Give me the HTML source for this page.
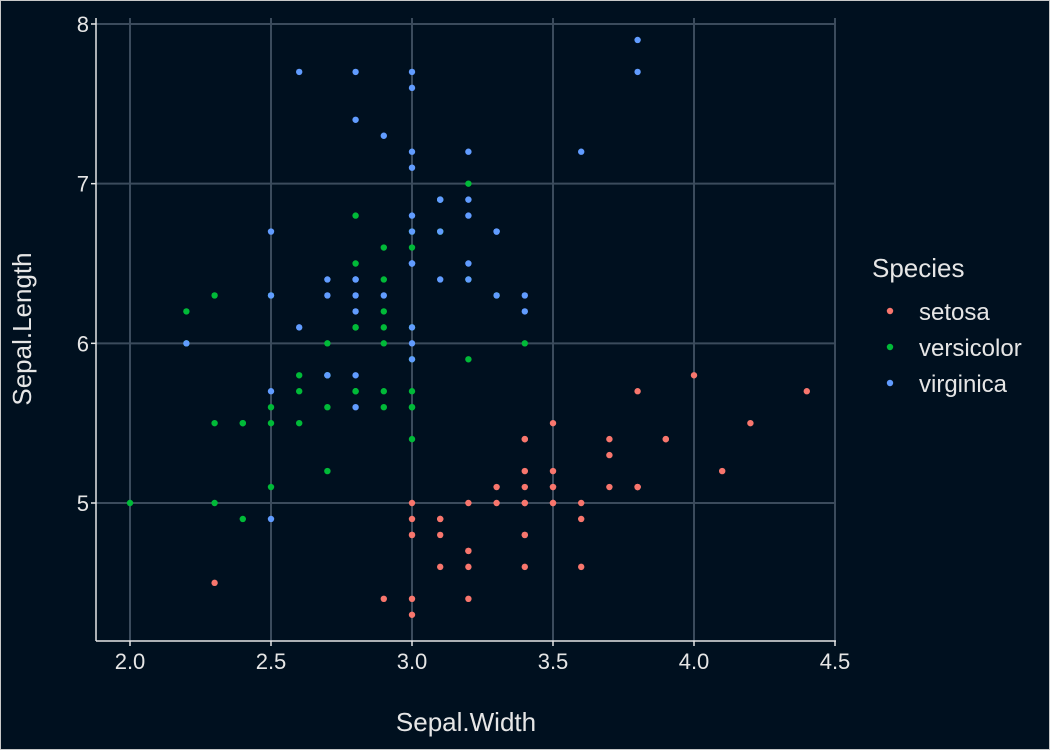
<!DOCTYPE html>
<html><head><meta charset="utf-8"><style>
html,body{margin:0;padding:0;background:#00101f;}
svg{display:block;font-family:"Liberation Sans",sans-serif;}
</style></head><body>
<svg id="chart" width="1050" height="750">
<rect x="0.5" y="0.5" width="1049" height="749" fill="#00101f" stroke="#c8c8c8" stroke-width="1"/>
<g id="grid"></g>
<g id="points"></g>
<g id="axes"></g>
<text x="466" y="731" fill="#e6e6e6" font-size="26" text-anchor="middle">Sepal.Width</text>
<text transform="translate(31,329) rotate(-90)" fill="#e6e6e6" font-size="26" text-anchor="middle">Sepal.Length</text>
<g>
<text x="872" y="277" fill="#e6e6e6" font-size="26">Species</text>
<g><circle cx="890" cy="311" r="3.2" fill="#F8766D"/><text x="919" y="320" fill="#e6e6e6" font-size="24">setosa</text></g>
<g><circle cx="890" cy="347" r="3.2" fill="#00BA38"/><text x="919" y="356" fill="#e6e6e6" font-size="24">versicolor</text></g>
<g><circle cx="890" cy="383" r="3.2" fill="#619CFF"/><text x="919" y="392" fill="#e6e6e6" font-size="24">virginica</text></g>
</g>
</svg>
<script>
const xTicks = [2.0, 2.5, 3.0, 3.5, 4.0, 4.5];
const xTickLabels = ["2.0", "2.5", "3.0", "3.5", "4.0", "4.5"];
const yTicks = [5, 6, 7, 8];
const yTickLabels = ["5", "6", "7", "8"];
const speciesNames = ["setosa", "versicolor", "virginica"];
const speciesColors = ["#F8766D", "#00BA38", "#619CFF"];
const setosaWidth = [3.5,3.0,3.2,3.1,3.6,3.9,3.4,3.4,2.9,3.1,3.7,3.4,3.0,3.0,4.0,4.4,3.9,3.5,3.8,3.8,3.4,3.7,3.6,3.3,3.4,3.0,3.4,3.5,3.4,3.2,3.1,3.4,4.1,4.2,3.1,3.2,3.5,3.6,3.0,3.4,3.5,2.3,3.2,3.5,3.8,3.0,3.8,3.2,3.7,3.3];
const setosaLength = [5.1,4.9,4.7,4.6,5.0,5.4,4.6,5.0,4.4,4.9,5.4,4.8,4.8,4.3,5.8,5.7,5.4,5.1,5.7,5.1,5.4,5.1,4.6,5.1,4.8,5.0,5.0,5.2,5.2,4.7,4.8,5.4,5.2,5.5,4.9,5.0,5.5,4.9,4.4,5.1,5.0,4.5,4.4,5.0,5.1,4.8,5.1,4.6,5.3,5.0];
const versicolorWidth = [3.2,3.2,3.1,2.3,2.8,2.8,3.3,2.4,2.9,2.7,2.0,3.0,2.2,2.9,2.9,3.1,3.0,2.7,2.2,2.5,3.2,2.8,2.5,2.8,2.9,3.0,2.8,3.0,2.9,2.6,2.4,2.4,2.7,2.7,3.0,3.4,3.1,2.3,3.0,2.5,2.6,3.0,2.6,2.3,2.7,3.0,2.9,2.9,2.5,2.8];
const versicolorLength = [7.0,6.4,6.9,5.5,6.5,5.7,6.3,4.9,6.6,5.2,5.0,5.9,6.0,6.1,5.6,6.7,5.6,5.8,6.2,5.6,5.9,6.1,6.3,6.1,6.4,6.6,6.8,6.7,6.0,5.7,5.5,5.5,5.8,6.0,5.4,6.0,6.7,6.3,5.6,5.5,5.5,6.1,5.8,5.0,5.6,5.7,5.7,6.2,5.1,5.7];
const virginicaWidth = [3.3,2.7,3.0,2.9,3.0,3.0,2.5,2.9,2.5,3.6,3.2,2.7,3.0,2.5,2.8,3.2,3.0,3.8,2.6,2.2,3.2,2.8,2.8,2.7,3.3,3.2,2.8,3.0,2.8,3.0,2.8,3.8,2.8,2.8,2.6,3.0,3.4,3.1,3.0,3.1,3.1,3.1,2.7,3.2,3.3,3.0,2.5,3.0,3.4,3.0];
const virginicaLength = [6.3,5.8,7.1,6.3,6.5,7.6,4.9,7.3,6.7,7.2,6.5,6.4,6.8,5.7,5.8,6.4,6.5,7.7,7.7,6.0,6.9,5.6,7.7,6.3,6.7,7.2,6.2,6.1,6.4,7.2,7.4,7.9,6.4,6.3,6.1,7.7,6.3,6.4,6.0,6.9,6.7,6.9,5.8,6.8,6.7,6.7,6.3,6.5,6.2,5.9];

const NS = "http://www.w3.org/2000/svg";
function xScale(v){ return 130 + (v - 2.0) * 282; }
function yScale(v){ return 503 - (v - 5) * 159.67; }
function mk(tag, attrs, parent){ const e = document.createElementNS(NS, tag); for (const k in attrs) e.setAttribute(k, attrs[k]); parent.appendChild(e); return e; }

const grid = document.getElementById('grid');
const axes = document.getElementById('axes');
const gridColor = "#3b4b5c";
xTicks.forEach((t, i) => {
  const x = xScale(t);
  const gl = mk('line', {x1:x, x2:x, y1:18, y2:641, stroke:gridColor, 'stroke-width':2}, grid);
  
  
  const tk = mk('line', {x1:x, x2:x, y1:641, y2:646, stroke:"#e6e6e6", 'stroke-width':1.5}, axes);
  
  
  const lb = mk('text', {x:x, y:669, fill:"#e6e6e6", 'font-size':22, 'text-anchor':'middle'}, axes);
  lb.textContent = xTickLabels[i];
  
  
});
yTicks.forEach((t, i) => {
  const y = yScale(t);
  const gl = mk('line', {x1:96, x2:836, y1:y, y2:y, stroke:gridColor, 'stroke-width':2}, grid);
  
  
  const tk = mk('line', {x1:91, x2:96, y1:y, y2:y, stroke:"#e6e6e6", 'stroke-width':1.5}, axes);
  
  
  const lb = mk('text', {x:89, y:y+8, fill:"#e6e6e6", 'font-size':22, 'text-anchor':'end'}, axes);
  lb.textContent = yTickLabels[i];
  
  
});
const xa = mk('line', {x1:96, x2:836, y1:641, y2:641, stroke:"#e6e6e6", 'stroke-width':1.5}, axes);


const ya = mk('line', {x1:96, x2:96, y1:18, y2:641, stroke:"#e6e6e6", 'stroke-width':1.5}, axes);



const pts = document.getElementById('points');
const series = [[setosaWidth, setosaLength], [versicolorWidth, versicolorLength], [virginicaWidth, virginicaLength]];
series.forEach((s, si) => {
  s[0].forEach((w, i) => {
    const c = mk('circle', {cx:xScale(w), cy:yScale(s[1][i]), r:3.2, fill:speciesColors[si]}, pts);
    
    
  });
});
</script>
</body></html>
